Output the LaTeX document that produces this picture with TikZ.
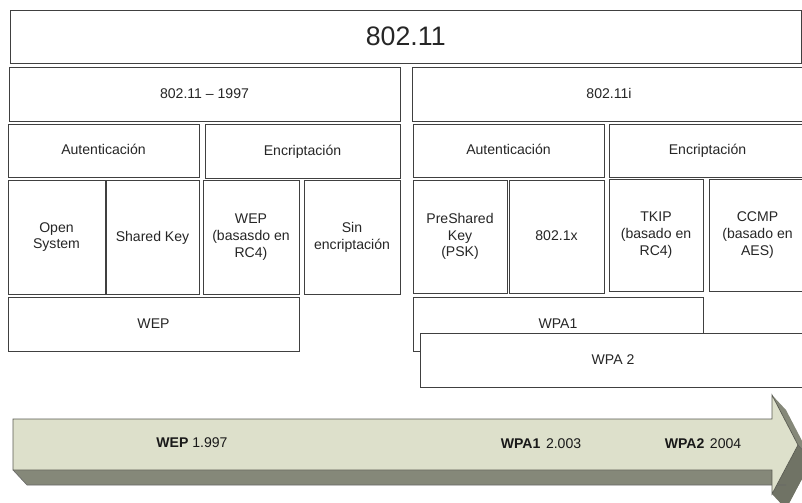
\documentclass[tikz,border=0pt]{standalone}
\usepackage{fontspec}
\setmainfont{Liberation Sans}
\definecolor{arrowface}{RGB}{221,224,203}
\definecolor{arrowside}{RGB}{133,136,121}
\definecolor{arrowdark}{RGB}{112,115,101}
\tikzset{
  box/.style={draw=black!75, fill=white, line width=0.6pt},
  boxtext/.style={align=center, text=black!85, font=\fontsize{10}{11.9}\selectfont},
  onetext/.style={boxtext, text height=1.5ex, text depth=0.35ex},
  yeartext/.style={text=black!90, font=\fontsize{10}{12}\selectfont}
}
\begin{document}
\begin{tikzpicture}[x=0.025cm, y=-0.025cm]
	\useasboundingbox (0,0) rectangle (802,502);
	% norma general
	\draw[box] (10,10) rectangle (801.5,63) node[midway, boxtext, font=\fontsize{19}{21}\selectfont] (std) {802.11};
	% 802.11 - 1997
	\draw[box] (9,67) rectangle (400,121) node[midway, onetext] (stdA) {802.11 – 1997};
	\draw[box] (8,124) rectangle (199,177) node[midway, onetext] (autA) {Autenticación};
	\draw[box] (205,124) rectangle (400,178) node[midway, onetext] (encA) {Encriptación};
	\draw[box] (8,180) rectangle (105,294) node[midway, boxtext] (open) {Open\\System};
	\draw[box] (106,180) rectangle (199,294) node[midway, onetext] (shared) {Shared Key};
	\draw[box] (203,180) rectangle (299,294) node[midway, boxtext] (rcA) {WEP\\(basasdo en\\RC4)};
	\draw[box] (304,180) rectangle (400,294) node[midway, boxtext] (sin) {Sin\\encriptación};
	\draw[box] (8,297) rectangle (299,351) node[midway, onetext] (wep) {WEP};
	% 802.11i
	\draw[box] (412,67) rectangle (806,121) node[midway, onetext] (stdB) {802.11i};
	\draw[box] (413,124) rectangle (604,177) node[midway, onetext] (autB) {Autenticación};
	\draw[box] (609,124) rectangle (806,177) node[midway, onetext] (encB) {Encriptación};
	\draw[box] (413,180) rectangle (507,293) node[midway, boxtext] (psk) {PreShared\\Key\\(PSK)};
	\draw[box] (509,180) rectangle (604,293) node[midway, onetext] (dotx) {802.1x};
	\draw[box] (609,179) rectangle (703,291) node[midway, boxtext] (tkip) {TKIP\\(basado en\\RC4)};
	\draw[box] (709,179) rectangle (806,291) node[midway, boxtext] (ccmp) {CCMP\\(basado en\\AES)};
	\draw[box] (413,297) rectangle (703,351) node[midway, onetext] (wpaA) {WPA1};
	\draw[box] (420,333) rectangle (806,387) node[midway, onetext] (wpaB) {WPA 2};
	% flecha de tiempo
	\fill[arrowside] (13,419)--(772,419)--(772,395)--(786,410)--(812,460)--(786,509)--(786,485)--(27,485)--(13,470)--cycle;
	\fill[arrowdark] (798,445)--(812,460)--(786,509)--(772,494)--cycle;
	\draw[black!60, line width=0.4pt] (13,470)--(27,485)--(786,485)  (798,445)--(812,460);
	\draw[arrowface!40!black, line width=0.5pt, fill=arrowface] (13,419)--(772,419)--(772,395)--(798,445)--(772,494)--(772,470)--(13,470)--cycle;
	\node[yeartext] (yWEP) at (192,443) {\textbf{WEP} 1.997};
	\node[yeartext] (yWPA1) at (541,444) {\textbf{WPA1}\hspace{0.4em}2.003};
	\node[yeartext] (yWPA2) at (703,444) {\textbf{WPA2}\hspace{0.4em}2004};
\end{tikzpicture}
\end{document}
